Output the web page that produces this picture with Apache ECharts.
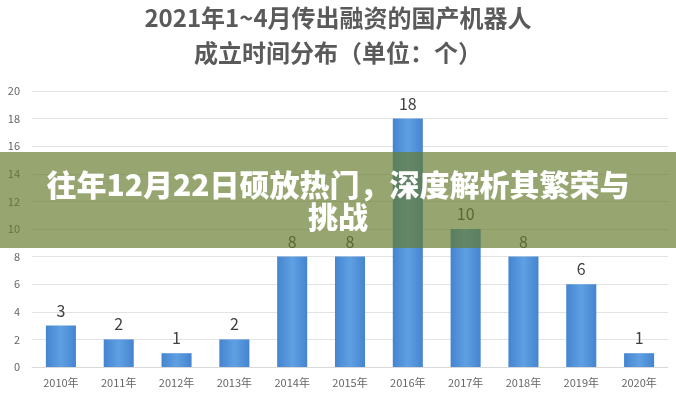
<!DOCTYPE html>
<html><head><meta charset="utf-8">
<script src="https://cdn.jsdelivr.net/npm/echarts@6/dist/echarts.min.js"></script>
<style>html,body{margin:0;padding:0;background:#fff}#c{width:676px;height:400px}</style>
</head><body><div id="c"></div>
<script>
const categories = ['2010年','2011年','2012年','2013年','2014年','2015年','2016年','2017年','2018年','2019年','2020年'];
const counts = [3,2,1,2,8,8,18,10,8,6,1];
const titleLine1 = '2021年1~4月传出融资的国产机器人';
const titleLine2 = '成立时间分布（单位：个）';
const bannerLine1 = '往年12月22日硕放热门，深度解析其繁荣与';
const bannerLine2 = '挑战';

const chart = echarts.init(document.getElementById('c'));
const cjk = '"Noto Sans CJK SC", "Noto Sans", sans-serif';
chart.setOption({
  animation: false,
  textStyle: { fontFamily: cjk },
  grid: { left: 32, right: 8, top: 91, bottom: 33 },
  xAxis: {
    type: 'category', data: categories,
    axisLine: { lineStyle: { color: '#d9d9d9' } },
    axisTick: { show: false },
    axisLabel: { color: '#666', fontSize: 11, margin: 10 }
  },
  yAxis: {
    type: 'value', min: 0, max: 20, interval: 2,
    axisLine: { show: false }, axisTick: { show: false },
    axisLabel: { color: '#666', fontSize: 11, margin: 12 },
    splitLine: { lineStyle: { color: '#e3e3e3' } }
  },
  series: [{
    type: 'bar', data: counts, barWidth: '52%',
    itemStyle: { color: new echarts.graphic.LinearGradient(0,0,1,0,[
      {offset:0,color:'#4585d0'},{offset:0.5,color:'#5f9fe2'},{offset:1,color:'#4585d0'}]) },
    label: { show: true, position: 'top', distance: 7, color: '#404040', fontSize: 16 }
  }],
  graphic: [
    { type: 'text', left: 'center', top: 6, style: { text: titleLine1, fill: '#5a5a5a', font: 'bold 24px ' + cjk } },
    { type: 'text', left: 'center', top: 41, style: { text: titleLine2, fill: '#5a5a5a', font: 'bold 24px ' + cjk } },
    { type: 'rect', shape: { x: 0, y: 152, width: 676, height: 96 }, style: { fill: 'rgba(102,124,44,0.68)' }, z: 100 },
    { type: 'text', left: 'center', top: 170, z: 101, style: { text: bannerLine1, fill: '#fff', font: '900 30px ' + cjk } },
    { type: 'text', left: 'center', top: 202, z: 101, style: { text: bannerLine2, fill: '#fff', font: '900 30px ' + cjk } }
  ]
});
</script></body></html>
